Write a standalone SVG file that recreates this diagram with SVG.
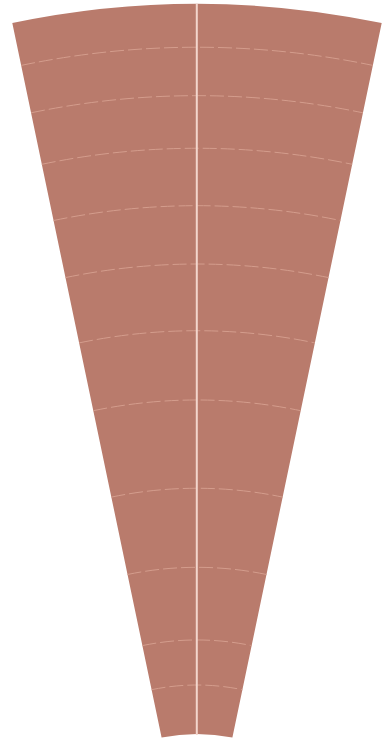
<svg xmlns="http://www.w3.org/2000/svg" width="382" height="743" viewBox="0 0 382 743">
<style>
.band{fill:#b97b6c;stroke:none}
.arc{fill:none;stroke:#d49d8d;stroke-width:1;stroke-dasharray:14 4}
.axis{stroke:#f3d5cc;stroke-width:2}
</style>
<rect width="382" height="743" fill="#ffffff"/>
<g id="fan">
<path class="band" d="M 12.3 23.1 A 903 903 0 0 1 381.7 23.1 L 232.4 737.6 A 173 173 0 0 0 161.6 737.6 Z"/>
</g>
<g id="arcs">
<path class="arc" d="M 21.2 65.4 A 859.7 859.7 0 0 1 372.8 65.4"/>
<path class="arc" d="M 31.1 112.8 A 811.3 811.3 0 0 1 362.9 112.8"/>
<path class="arc" d="M 41.8 164.3 A 758.7 758.7 0 0 1 352.2 164.3"/>
<path class="arc" d="M 53.6 220.5 A 701.3 701.3 0 0 1 340.4 220.5"/>
<path class="arc" d="M 65.5 277.6 A 643 643 0 0 1 328.5 277.6"/>
<path class="arc" d="M 79.1 342.9 A 576.3 576.3 0 0 1 314.9 342.9"/>
<path class="arc" d="M 93.3 410.7 A 507 507 0 0 1 300.7 410.7"/>
<path class="arc" d="M 111.4 497.1 A 418.7 418.7 0 0 1 282.6 497.1"/>
<path class="arc" d="M 127.5 574.5 A 339.7 339.7 0 0 1 266.5 574.5"/>
<path class="arc" d="M 142.4 645.6 A 267 267 0 0 1 251.6 645.6"/>
<path class="arc" d="M 151.6 689.7 A 222 222 0 0 1 242.4 689.7"/>
</g>
<g id="axis">
<line class="axis" x1="196.8" y1="4" x2="196.8" y2="735"/>
</g>
</svg>
